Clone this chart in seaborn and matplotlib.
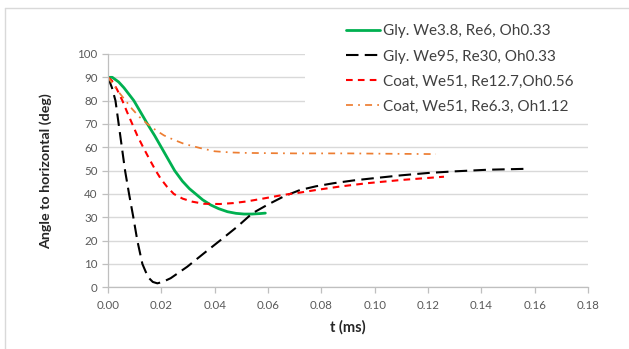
import numpy as np
import pandas as pd
import matplotlib
matplotlib.use("Agg")
import matplotlib.pyplot as plt
import seaborn as sns
from matplotlib.lines import Line2D
from matplotlib.patches import Rectangle

# ---- data ----
labels = ["Gly. We3.8, Re6, Oh0.33",
          "Gly. We95, Re30, Oh0.33",
          "Coat, We51, Re12.7,Oh0.56",
          "Coat, We51, Re6.3, Oh1.12"]

t_gly1 = [0, 0.0016, 0.004, 0.006, 0.0097, 0.012, 0.0148, 0.0175, 0.020, 0.0225,
          0.025, 0.0279, 0.0305, 0.0329, 0.0355, 0.0385, 0.0415, 0.0448, 0.048,
          0.051, 0.054, 0.057, 0.059]
a_gly1 = [90, 90, 88, 85.5, 80, 75.5, 70, 65, 60, 55, 50, 45.5, 42.3, 40, 37.5,
          35.3, 33.7, 32.4, 31.7, 31.4, 31.4, 31.6, 31.8]

t_gly2 = [0, 0.0015, 0.0028, 0.004, 0.0052, 0.0064, 0.0079, 0.0095, 0.011, 0.0129,
          0.0142, 0.0154, 0.0168, 0.0185, 0.0205, 0.0235, 0.0297, 0.036, 0.0423,
          0.0485, 0.0541, 0.060, 0.066, 0.072, 0.078, 0.0845, 0.092, 0.100, 0.110,
          0.120, 0.130, 0.1425, 0.1575]
a_gly2 = [90, 85.5, 80, 70, 60, 50, 40, 30, 20, 10, 6.5, 3.9, 2.3, 1.7, 2.3, 3.9,
          8.8, 14.6, 20.3, 26, 31.7, 35.5, 39, 41.7, 43.3, 44.6, 45.8, 46.8, 48,
          49, 49.7, 50.4, 50.8]

t_coat1 = [0, 0.0015, 0.0033, 0.0054, 0.0072, 0.0091, 0.011, 0.0132, 0.0155, 0.0179,
           0.0198, 0.0222, 0.0247, 0.028, 0.0316, 0.036, 0.042, 0.047, 0.052, 0.058,
           0.0657, 0.072, 0.078, 0.087, 0.097, 0.110, 0.126]
a_coat1 = [90, 88.5, 85, 80, 75, 70, 65, 60, 55, 50, 46.5, 43, 40, 38, 36.7, 35.8,
           35.7, 36.1, 36.8, 38, 39.6, 40.6, 41.7, 43.2, 44.6, 46, 47.4]

t_coat2 = [0, 0.0025, 0.0045, 0.0066, 0.009, 0.0118, 0.0148, 0.018, 0.021, 0.0245,
           0.0285, 0.0345, 0.040, 0.046, 0.052, 0.060, 0.070, 0.080, 0.090, 0.100,
           0.110, 0.123]
a_coat2 = [90, 86, 83, 80, 76.5, 73, 70, 67.3, 65.1, 63.3, 61.5, 59.7, 58.3, 57.8,
           57.6, 57.5, 57.4, 57.4, 57.4, 57.3, 57.2, 57.1]

x_ticks = [0.00, 0.02, 0.04, 0.06, 0.08, 0.10, 0.12, 0.14, 0.16, 0.18]
y_ticks = [0, 10, 20, 30, 40, 50, 60, 70, 80, 90, 100]

series = [(t_gly1, a_gly1), (t_gly2, a_gly2), (t_coat1, a_coat1), (t_coat2, a_coat2)]
colors = ["#00b050", "#000000", "#ff0000", "#ed7d31"]
widths = [2.0, 1.5, 1.5, 1.25]
styles = ["-", (0, (6, 3)), (0, (3.2, 2.5)), (0, (4, 3, 1, 3))]

sns.set_theme(style="white")
plt.rcParams['font.family'] = ['Lato', 'DejaVu Sans']

W, H = 629, 349
fig = plt.figure(figsize=(W / 100, H / 100), dpi=100)
ax = fig.add_axes([108 / W, 1 - 287.3 / H, 480 / W, 233.3 / H])

for (tx, ay), lab, c, lw, ls in zip(series, labels, colors, widths, styles):
    df = pd.DataFrame({"t": tx, "a": ay})
    sns.lineplot(data=df, x="t", y="a", ax=ax, color=c, linewidth=lw,
                 linestyle=ls, sort=False, estimator=None, label=lab, legend=False)

ax.set_xlim(0, 0.18)
ax.set_ylim(0, 100)
ax.set_xticks(x_ticks)
ax.set_xticklabels([f"{v:.2f}" for v in x_ticks])
ax.set_yticks(y_ticks)
ax.set_yticklabels([str(v) for v in y_ticks])

ax.grid(axis="y", color="#d9d9d9", linewidth=1.0)
ax.grid(axis="x", visible=False)
ax.set_axisbelow(True)
for s in ["top", "right"]:
    ax.spines[s].set_visible(False)
for s in ["left", "bottom"]:
    ax.spines[s].set_color("#bfbfbf")
    ax.spines[s].set_linewidth(0.9)

ax.tick_params(axis="both", which="major", length=4, width=0.9, color="#bfbfbf",
               labelsize=8.3, labelcolor="#595959", direction="out")
ax.tick_params(axis="x", pad=5, bottom=True)
ax.tick_params(axis="y", pad=3.5, left=True)

ax.set_xlabel("t (ms)", fontsize=10.5, fontweight="bold", color="#262626")
ax.set_ylabel("Angle to horizontal (deg)", fontsize=10.3, fontweight="bold", color="#262626")
ax.xaxis.label.set_va("center")
ax.yaxis.label.set_va("center")
ax.xaxis.set_label_coords(0.5, (287.3 - 327) / 233.3)
ax.yaxis.set_label_coords((46 - 108) / 480, 0.5)

# white legend area covering the gridlines (as in the reference)
fig.add_artist(Rectangle((305 / W, 1 - 113 / H), (W - 305) / W, (113 - 10) / H,
                         transform=fig.transFigure, facecolor="white",
                         edgecolor="none", zorder=2))

handles = ax.get_lines()[:4]
leg = fig.legend(handles, labels, loc="upper left",
                 bbox_to_anchor=(346 / W, 1 - 24.5 / H),
                 frameon=False, fontsize=11, handlelength=2.25, handletextpad=0.2,
                 labelspacing=0.72, borderpad=0, borderaxespad=0,
                 labelcolor="#404040")
leg.set_zorder(5)

# chart-area border (partially cropped in reference)
fig.add_artist(Line2D([5 / W, 5 / W], [0, 1 - 8 / H], color="#d9d9d9", lw=1.0,
                      transform=fig.transFigure))
fig.add_artist(Line2D([5 / W, 1], [1 - 8 / H, 1 - 8 / H], color="#d9d9d9", lw=1.0,
                      transform=fig.transFigure))

fig.savefig("out.png", dpi=100)
